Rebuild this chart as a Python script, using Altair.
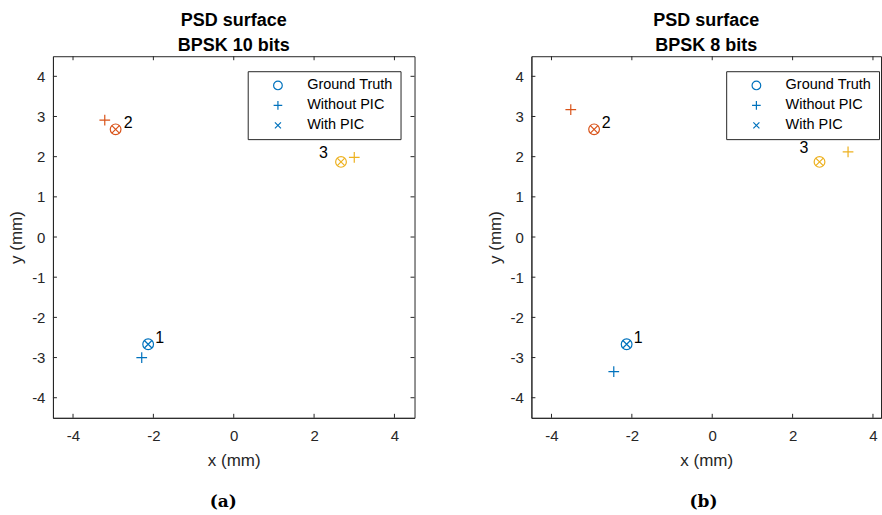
import altair as alt
import pandas as pd

# ---------------- data ----------------
targets = ["1", "2", "3"]
series_names = ["Ground Truth", "Without PIC", "With PIC"]

gt_x = [-2.13, -2.94, 2.67]
gt_y = [-2.67, 2.68, 1.87]

a_without_x = [-2.29, -3.21, 3.00]
a_without_y = [-3.00, 2.91, 1.98]
a_with_x = [-2.13, -2.94, 2.67]
a_with_y = [-2.67, 2.68, 1.87]
a_label_x = [-1.84, -2.63, 2.23]
a_label_y = [-2.52, 2.84, 2.08]

b_without_x = [-2.45, -3.52, 3.38]
b_without_y = [-3.35, 3.17, 2.12]
b_with_x = [-2.13, -2.94, 2.67]
b_with_y = [-2.67, 2.68, 1.87]
b_label_x = [-1.84, -2.64, 2.28]
b_label_y = [-2.52, 2.84, 2.22]

x_ticks = [-4, -2, 0, 2, 4]
y_ticks = [-4, -3, -2, -1, 0, 1, 2, 3, 4]

colors = ["#0072BD", "#D95319", "#EDB120"]
AX = "#262626"
FONT = "Liberation Sans"
PPU = 362 / 9.0  # pixels per data unit
H = 362

circle = "circle"
plus = "M-1,0H1M0,-1V1"
cross = "M-0.7,-0.7L0.7,0.7M-0.7,0.7L0.7,-0.7"


def panel(title2, wx, wy, px, py, lx, ly, xmax, legend_x):
    W = round((xmax + 4.5) * PPU)
    rows = []
    for name, xs, ys in [("Ground Truth", gt_x, gt_y), ("Without PIC", wx, wy), ("With PIC", px, py)]:
        for t, x, y in zip(targets, xs, ys):
            rows.append({"series": name, "target": t, "x": x, "y": y})
    pts = pd.DataFrame(rows)
    labels = pd.DataFrame({"target": targets, "x": lx, "y": ly})
    xt = pd.DataFrame({"t": x_ticks})
    yt = pd.DataFrame({"t": y_ticks})

    xscale = alt.Scale(domain=[-4.5, xmax], nice=False, zero=False)
    yscale = alt.Scale(domain=[-4.5, 4.5], nice=False, zero=False)
    xaxis = alt.Axis(values=x_ticks, title="x (mm)", grid=False, ticks=False,
                     labelPadding=11, titlePadding=9, labelExpr="'' + datum.value")
    yaxis = alt.Axis(values=y_ticks, title="y (mm)", grid=False, ticks=False,
                     labelPadding=8, titlePadding=6, labelExpr="'' + datum.value")

    points = alt.Chart(pts).mark_point(filled=False, strokeWidth=1.2, size=115, opacity=1).encode(
        x=alt.X("x:Q", scale=xscale, axis=xaxis),
        y=alt.Y("y:Q", scale=yscale, axis=yaxis),
        color=alt.Color("target:N", scale=alt.Scale(domain=targets, range=colors), legend=None),
        shape=alt.Shape("series:N",
                        scale=alt.Scale(domain=series_names, range=[circle, plus, cross]),
                        legend=alt.Legend(title=None, orient="none", legendX=legend_x, legendY=15,
                                          symbolStrokeColor="#0072BD", symbolFillColor="transparent",
                                          symbolSize=75, symbolStrokeWidth=1.2,
                                          labelFont=FONT, labelFontSize=14.5, labelColor="black",
                                          padding=7, symbolOffset=16, labelOffset=22, rowPadding=5,
                                          strokeColor=AX, fillColor="white", cornerRadius=0)),
    )
    text = alt.Chart(labels).mark_text(font=FONT, fontSize=16, color="black").encode(
        x=alt.X("x:Q", scale=xscale), y=alt.Y("y:Q", scale=yscale), text="target:N")

    top_t = alt.Chart(xt).mark_rule(color=AX, strokeWidth=1).encode(
        x=alt.X("t:Q", scale=xscale), y=alt.value(0), y2=alt.value(4))
    bot_t = alt.Chart(xt).mark_rule(color=AX, strokeWidth=1).encode(
        x=alt.X("t:Q", scale=xscale), y=alt.value(H), y2=alt.value(H - 4))
    left_t = alt.Chart(yt).mark_rule(color=AX, strokeWidth=1).encode(
        y=alt.Y("t:Q", scale=yscale), x=alt.value(0), x2=alt.value(4))
    layers = [points, text, top_t, bot_t, left_t]
    if xmax >= 4.5:
        right_t = alt.Chart(yt).mark_rule(color=AX, strokeWidth=1).encode(
            y=alt.Y("t:Q", scale=yscale), x=alt.value(W), x2=alt.value(W - 4))
        layers.append(right_t)

    ch = alt.layer(*layers).properties(
        width=W, height=H,
        title=alt.Title(["PSD surface", title2], font=FONT, fontSize=18, fontWeight="bold",
                        color="black", lineHeight=25, offset=1),
    )
    return ch


pa = panel("BPSK 10 bits", a_without_x, a_without_y, a_with_x, a_with_y, a_label_x, a_label_y, 4.5, 195)
pb = panel("BPSK 8 bits", b_without_x, b_without_y, b_with_x, b_with_y, b_label_x, b_label_y, 4.2, 195)

cap = dict(orient="bottom", anchor="middle", font="DejaVu Serif", fontSize=17, fontWeight="bold",
           color="black", offset=25)
ca = alt.vconcat(pa).properties(title=alt.Title("(a)", dx=12, **cap))
cb = alt.vconcat(pb).properties(title=alt.Title("(b)", dx=20, **cap))

chart = alt.hconcat(ca, cb, spacing=70).resolve_scale(shape="independent", color="independent", x="independent").resolve_legend(shape="independent").properties(
    padding={"left": 7, "top": 11, "right": 0, "bottom": 2}
).configure_view(stroke=AX, strokeWidth=1).configure_axis(
    domainColor=AX, labelColor=AX, titleColor=AX, labelFont=FONT, titleFont=FONT,
    labelFontSize=15, titleFontSize=17, titleFontWeight="normal"
)

chart.save("out.html", embed_options={"renderer": "svg", "actions": False})
